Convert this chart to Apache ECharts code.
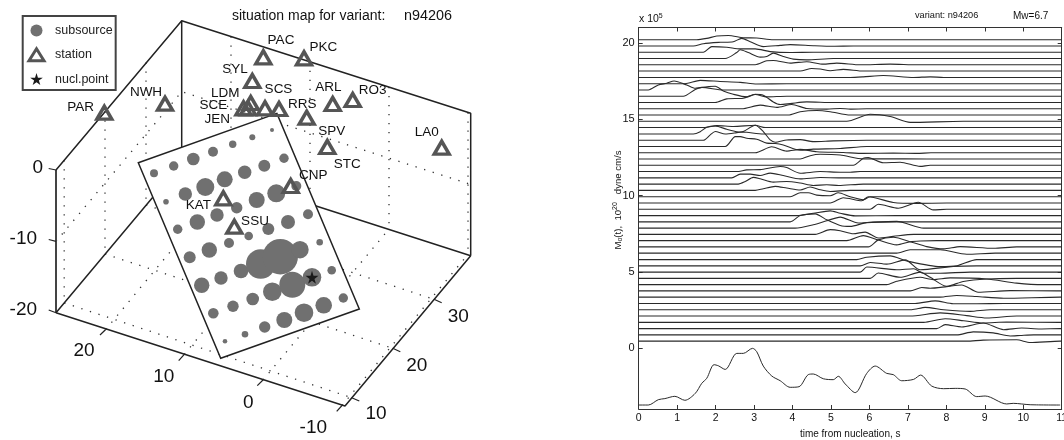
<!DOCTYPE html>
<html><head><meta charset="utf-8">
<style>html,body{margin:0;padding:0;background:#fff}#c{width:1064px;height:440px}</style>
<script src="https://cdn.jsdelivr.net/npm/echarts@6/dist/echarts.min.js"></script></head>
<body><div id="c"></div>
<script>
// ---------- left panel: projected figure of the 3-D box, [x, y] on the hidden projection axes ----------
const boxEdges = [
  [[56,170],[56,312.7]],
  [[56,170],[181.7,20.7],[470.7,113.3],[470.7,255.7]],
  [[181.7,20.7],[181.7,162.7]],
  [[56,312.7],[181.7,162.7],[470.7,255.7]],
  [[56,312.7],[345,406],[470.7,255.7]]
];
const boxTicks = [
  [[48.7,168.5],[56,170]],[[48.7,239.5],[56,241.4]],[[48.7,310],[56,312.7]],
  [[100,335],[105.7,329.5]],[[178.7,360.7],[184.3,354.3]],[[257.3,385.7],[263,380]],[[336.7,411.3],[342,405.5]],
  [[351.7,397.7],[359.3,401]],[[392.7,348.3],[400.3,351.7]],[[434,299.3],[441.7,302.7]]
];
const gridDots = [
  [[64.2,160.2],[64.2,302.9]],[[105,111.4],[105,254]],[[146,62.4],[146,205]],
  [[231,36.5],[231,178.5]],[[310,61.8],[310,203.8]],[[389,87],[389,229]],[[468,112.4],[468,254.4]],
  [[56,241.4],[181.7,91.7],[470.7,184.4]],
  [[105.7,329.5],[231,178.5]],[[184.3,354.3],[310,203.8]],[[263,380],[389,229]],[[342,405.5],[468,254.4]],
  [[64.2,302.9],[351.7,397.7]],[[105,254],[392.7,348.3]],[[146,205],[434,299.3]]
];
const faultPlane = [[138.3,162.7],[276.9,113.4],[359.3,309],[220.7,358.3]];
const subsources = [ // x, y, diameter
 [154,173.3,8],[173.7,166,9.4],[193.3,159,12.6],[213,151.7,10],[232.7,144.3,7.4],[252.3,137.3,6],[272,130,4],
 [166,201.7,5.6],[185.3,194,13.4],[205.3,187,18],[224.7,179.3,16],[244.7,172.3,13.4],[264.3,165.7,12],[284,158.3,9.4],
 [177.7,229.3,9.4],[197.3,222,15.4],[217,215,13.4],[236.7,207.7,11.4],[256.7,200,16],[276.3,193.3,18],[296.3,186,10],
 [189.7,257.3,12],[209.3,250,15.4],[229,243,10],[248.7,236,8.6],[268.3,229,12],[288,222,14],[308,214.3,10],
 [201.7,285.3,15.4],[221,278,13.4],[241,271,14.6],[260.7,264,29.4],[280.3,256.7,35.4],[300,249.7,17.4],[319.7,242.3,6.6],
 [213.3,313.3,10.6],[233,306.3,11.4],[252.7,299,12.6],[272.3,291.7,18.6],[292.3,284.7,26],[312,277.3,18.6],[331.7,270.3,8.6],
 [225,341.3,4.6],[245,334.3,6.6],[264.7,327,11.4],[284.3,320,16],[304,312.7,18.6],[323.7,305.3,16.6],[343.3,298,9.4]
];
const stations = [[104.3,112.7],[165,103.7],[263.3,57.3],[252.3,81],[304,58.3],[250.7,103],[243.5,108.3],[248,108.3],
 [265,108.3],[279,109],[306.7,117.7],[332.7,104],[352.7,100],[327.3,147],[441.7,147.7],[290.7,186],[223.3,198.3],[234.3,226.7]];
const nuclPoint = [[312,277.3]];
const stationLabels = [[80.7,107,'PAR'],[146,92,'NWH'],[281,40,'PAC'],[323.3,47,'PKC'],[235,69,'SYL'],[225.3,93.7,'LDM'],
 [213.3,105.7,'SCE'],[217.3,119,'JEN'],[278.5,89,'SCS'],[328.3,87.3,'ARL'],[372.7,90,'RO3'],[302.3,104,'RRS'],
 [331.7,131,'SPV'],[347.3,164,'STC'],[426.7,132.3,'LA0'],[313.3,175.7,'CNP'],[198.3,205,'KAT'],[255,221,'SSU']];
const boxTickLabels = [[37.7,167.7,'0'],[23.3,239,'-10'],[23.3,309.3,'-20'],[84,351,'20'],[163.7,376.7,'10'],[248.3,402.3,'0'],
 [313.3,427.3,'-10'],[376,414,'10'],[416.7,365.7,'20'],[458.3,316.7,'30']];

// ---------- right panel ----------
const timeTicks = [0,1,2,3,4,5,6,7,8,9,10,11];
const momentTicks = [0,5,10,15,20];
const traceBaselines = [20.2,19.79,19.38,18.97,18.56,18.15,17.73,17.32,16.91,16.5,16.09,15.68,15.27,14.86,14.45,14.03,13.62,13.21,12.8,12.39,11.98,11.57,11.16,10.75,10.34,9.92,9.51,9.1,8.69,8.28,7.87,7.46,7.05,6.64,6.23,5.81,5.4,4.99,4.58,4.17,3.76,3.35,2.94,2.53,2.12,1.7,1.29,.88,.47];
const tracePulses = [ // [time s, offset from the trace's baseline]
 [[1.51,0],[1.77,.09],[2.03,.24],[2.33,.28],[2.72,.13],[3.07,.11],[3.5,0]],
 [[1.42,0],[1.68,.15],[2.12,.24],[2.46,.28],[2.68,.5],[2.9,.28],[3.24,-.04],[3.68,.04],[3.94,.09],[4.54,.02],[5.06,-.02],[5.58,0]],
 [[1.68,0],[1.9,.37],[2.29,.33],[2.64,.22],[3.03,.22],[3.42,.04],[3.94,-.02],[4.54,0]],
 [[2.25,0],[2.55,.39],[2.64,.57],[2.85,.39],[3.16,.09],[3.33,.13],[3.5,.35],[3.76,.13],[4.02,-.04],[4.37,-.09],[5.06,0]],
 [[3.03,0],[3.33,.26],[3.5,.28],[3.94,.11],[4.37,.2],[4.8,.04],[5.15,.11],[5.76,0],[6.54,.04],[7.24,0]],
 [[4.2,0],[4.5,.17],[4.72,.13],[4.98,.02],[5.32,.11],[5.84,0]],
 [[5.5,0],[5.84,.04],[6.36,.13],[7.15,0],[7.58,.04],[7.93,0]],
 [[1.2,0],[1.6,.22],[2.12,.15],[2.64,.09],[3.07,-.02],[3.85,0]],
 [[.25,0],[.51,.33],[.73,.44],[.92,.59],[1.25,.33],[1.47,.11],[1.64,.17],[2.2,0]],
 [[1.16,0],[1.47,.44],[1.64,.57],[1.99,.65],[2.2,.35],[2.46,.13],[2.81,-.04],[3.03,.11],[3.33,-.04],[3.85,0]],
 [[1.99,0],[2.29,.24],[2.72,.28],[3.03,.54],[3.24,.48],[3.5,.04],[3.68,-.13],[3.94,-.07],[4.37,.04],[5.06,0]],
 [[2.68,0],[3.16,.24],[3.59,.09],[3.98,.28],[4.37,.02],[4.89,-.02],[5.24,.02],[5.5,-.02],[5.93,0]],
 [[3.89,0],[4.2,.22],[4.63,.3],[4.98,.22],[5.5,0]],
 [[5.41,0],[6.02,.46],[6.54,.31],[7.06,-.07],[8.44,0]],
 [[1.47,0],[1.77,.02],[2.03,.13],[2.46,.07],[3.03,.15],[3.29,0]],
 [[1.42,0],[1.6,.15],[1.77,.44],[1.99,.52],[2.29,.31],[2.55,.15],[2.81,.11],[3.24,0]],
 [[1.68,0],[1.86,.35],[1.99,.57],[2.25,.41],[2.55,.5],[2.72,.57],[3.03,.98],[3.24,.57],[3.42,.02],[3.55,-.13],[3.85,.02],[4.2,.04],[4.54,-.09],[5.06,-.04],[5.93,0]],
 [[2.25,0],[2.51,.65],[2.64,.65],[2.81,.54],[3.07,.48],[3.33,.22],[3.55,.2],[3.76,.1],[4.2,-.24],[4.54,-.17],[5.24,-.13],[5.93,0]],
 [[3.03,0],[3.46,.39],[3.85,.11],[4.2,.22],[4.63,.07],[5.32,.02],[5.84,-.04],[6.62,-.02],[7.24,-.04],[7.6,0]],
 [[4.2,0],[4.46,.22],[4.72,.31],[5.24,.26],[5.84,0],[6.36,.02],[7.49,0]],
 [[5.58,0],[5.84,.46],[5.97,.5],[6.36,.17],[6.8,.2],[7.32,-.07],[7.58,0]],
 [[2.55,0],[2.81,.11],[3.16,.13],[3.68,.33],[3.85,.26],[4.2,-.11],[4.72,0],[5.24,-.04],[5.5,-.04],[5.76,0]],
 [[2.42,0],[2.64,.24],[2.9,.24],[3.16,.15],[3.42,.31],[3.76,.15],[4.2,-.07],[4.72,.02],[5.24,0]],
 [[2.59,0],[2.77,.17],[2.98,.44],[3.16,.35],[3.5,.13],[3.85,.17],[4.2,.07],[4.54,-.09],[4.89,-.04],[5.2,-.09],[5.84,0]],
 [[3.03,0],[3.24,.11],[3.55,.26],[3.85,.15],[4.2,.02],[4.46,.22],[4.72,.04],[4.98,-.07],[5.5,0]],
 [[3.94,0],[4.2,.26],[4.41,.26],[4.63,.11],[4.98,.07],[5.19,.26],[5.5,0],[5.84,-.2],[6.02,0],[6.62,0]],
 [[4.98,0],[5.32,.35],[5.8,.15],[5.97,.41],[6.62,.04],[7.24,-.02],[8.01,0]],
 [[6.02,0],[6.23,.33],[6.75,.07],[7.27,.46],[7.66,-.04],[8.01,0]],
 [[4.11,0],[4.54,.15],[4.98,.31],[5.24,.15],[5.63,-.02],[6.71,0]],
 [[3.94,0],[4.2,.41],[4.59,.52],[4.89,.13],[5.24,-.24],[5.5,-.3],[5.93,-.05],[6.71,0]],
 [[4.07,0],[4.54,.22],[4.89,.48],[5.24,.72],[5.71,.33],[6.1,.39],[6.71,.44],[7.41,0]],
 [[4.59,0],[4.98,.31],[5.24,.24],[5.58,.04],[5.89,.15],[6.23,-.24],[6.62,-.13],[7.15,0]],
 [[5.41,0],[5.84,.33],[6.23,.04],[6.71,-.28],[7.06,-.07],[7.32,-.02],[7.75,0]],
 [[5.97,0],[6.23,.46],[6.62,.63],[7.1,.31],[7.49,.02],[7.93,-.13],[8.36,.02],[9.23,-.09],[9.83,0]],
 [[6.45,0],[6.71,0],[7.06,.22],[7.49,.22],[7.84,.22],[8.53,-.07],[9.27,0]],
 [[5.67,0],[5.93,.15],[6.54,.24],[6.97,-.09],[7.84,-.46],[8.27,-.41],[8.79,0]],
 [[5.76,0],[6.02,.22],[6.45,.11],[6.93,.39],[7.32,-.26],[8.18,-.04],[8.79,0]],
 [[5.76,0],[5.93,.33],[6.71,.15],[7.15,.22],[7.4,-.07],[7.84,-.07],[8.62,0]],
 [[6.02,0],[6.23,.35],[6.8,.07],[7.32,.41],[7.58,.07],[8.01,-.52],[8.44,-.2],[9.05,-.04],[9.83,0]],
 [[6.45,0],[6.71,.22],[7.32,.48],[7.66,.33],[8.1,.44],[9.05,.37],[9.83,.1],[10.52,0]],
 [[7.06,0],[7.36,.22],[7.58,.17],[8.01,.28],[8.4,.39],[8.83,-.09],[9.66,.02],[10.87,0]],
 [[7.84,0],[8.27,.11],[8.79,.04],[9.49,-.07],[10.96,0]],
 [[7.19,0],[7.71,.17],[8.18,-.02],[8.79,-.02],[9.49,0]],
 [[7.1,0],[7.45,.15],[7.93,0],[8.62,-.11],[9.14,0]],
 [[7.06,0],[7.84,.2],[8.53,.02],[9.05,-.13],[9.83,0]],
 [[7.41,0],[7.97,.24],[8.45,.11],[8.96,-.04],[9.57,.02],[10.96,0]],
 [[7.75,0],[7.97,.26],[8.4,.11],[8.96,.37],[9.49,-.07],[9.96,.04],[10.44,-.02],[10.96,0]],
 [[8.27,0],[8.7,.2],[9.22,.13],[9.66,-.07],[9.92,-.04],[10.27,0]],
 [[8.53,0],[8.96,.07],[9.83,.09],[10.18,-.09],[10.96,0]]
];
const totalMoment = [[0,-3.71],[.25,-3.71],[.51,-3.36],[.68,-3.29],[.94,-3.14],[1.2,-3.4],[1.47,-2.95],[1.64,-2.29],[1.77,-1.96],[1.96,-1.07],[2.07,-1.14],[2.25,-1.38],[2.55,-.33],[2.72,-.33],[2.96,0],[3.07,-.22],[3.24,-1.16],[3.46,-1.81],[3.68,-2.12],[3.94,-2.55],[4.17,-2.51],[4.41,-1.72],[4.54,-1.68],[4.8,-1.99],[5.06,-2.05],[5.19,-1.83],[5.37,-2.33],[5.63,-2.9],[5.93,-1.64],[6.15,-1.16],[6.45,-1.64],[6.62,-1.72],[6.84,-2.12],[7.15,-2.03],[7.33,-1.75],[7.62,-2.47],[7.93,-2.64],[8.23,-2.62],[8.49,-2.66],[8.79,-3.16],[9.01,-3.12],[9.57,-3.64],[9.74,-3.6],[10.18,-3.69],[10.96,-3.71]];

const FONT = '"Liberation Sans", Arial, sans-serif';
const STAR = 'path://M50 0 L61 35 L98 35 L68 57 L79 91 L50 70 L21 91 L32 57 L2 35 L39 35Z';
function wire(pts, z, lineStyle){ return {type:'line', xAxisIndex:0, yAxisIndex:0, data:pts, symbol:'none', silent:true, z, clip:false, lineStyle, animation:false}; }
function labels(rows, size, z){ return {type:'custom', xAxisIndex:0, yAxisIndex:0, data:rows, z, silent:true, clip:false,
  encode:{x:0,y:1},
  renderItem:(p,api)=>{const c=api.coord([api.value(0),api.value(1)]);
    return {type:'text',x:c[0],y:c[1],style:{text:rows[p.dataIndex][2],font:size+'px '+FONT,fill:'#111',align:'center',verticalAlign:'middle'}};}}; }

const series = [];
gridDots.forEach(g=>series.push(wire(g,1,{color:'#333',width:1.3,type:[1.3,7.7]})));
boxEdges.forEach((g,i)=>series.push(wire(g,2,{color:i===0?'#444':'#222',width:i===0?2:1.5})));
boxTicks.forEach(g=>series.push(wire(g,2,{color:'#222',width:1.2})));
series.push({type:'custom',xAxisIndex:0,yAxisIndex:0,z:3,silent:true,clip:false,data:faultPlane,encode:{x:0,y:1},
  renderItem:(p,api)=>p.dataIndex===0?{type:'polygon',shape:{points:faultPlane.map(q=>api.coord(q))},style:{fill:'#fff',stroke:'#222',lineWidth:1.5}}:null});
series.push({name:'subsource',type:'scatter',xAxisIndex:0,yAxisIndex:0,z:4,data:subsources,symbol:'circle',symbolSize:v=>v[2],
  itemStyle:{color:'#707070',opacity:1},silent:true,clip:false});
series.push({name:'station',type:'scatter',xAxisIndex:0,yAxisIndex:0,z:5,data:stations,symbol:'triangle',symbolSize:[15,13],
  itemStyle:{color:'rgba(255,255,255,0)',borderColor:'#555',borderWidth:3.4,opacity:1},silent:true,clip:false});
series.push({name:'nucl.point',type:'scatter',xAxisIndex:0,yAxisIndex:0,z:6,data:nuclPoint,symbol:STAR,symbolSize:13,
  itemStyle:{color:'#1a1a1a',opacity:1},silent:true,clip:false});
series.push(labels(stationLabels,13.5,7));
series.push(labels(boxTickLabels,19,7));
tracePulses.forEach((pulse,i)=>{
  const b=traceBaselines[i];
  series.push({type:'line',xAxisIndex:1,yAxisIndex:1,symbol:'none',silent:true,smooth:0.25,animation:false,
    lineStyle:{color:'#2a2a2a',width:1.1},
    data:[[0,b],...pulse.map(p=>[p[0],+(b+p[1]).toFixed(3)]),[11,b]]});
});
series.push({type:'line',xAxisIndex:1,yAxisIndex:1,symbol:'none',silent:true,smooth:0.3,animation:false,lineStyle:{color:'#2a2a2a',width:1},data:totalMoment});

const hiddenX={show:false,type:'value',gridIndex:0,min:0,max:530};
const hiddenY={show:false,type:'value',gridIndex:0,min:0,max:440,inverse:true};
const frameLine={show:true,onZero:false,lineStyle:{color:'#333',width:1}};
const frameTick={show:true,inside:true,length:4,lineStyle:{color:'#333',width:1}};
const titleText=(size)=>({fontFamily:FONT,fontSize:size,fontWeight:'normal',color:'#111'});
const option={
  backgroundColor:'#fff',animation:false,
  grid:[{left:0,top:0,width:530,height:440,outerBoundsMode:'none'},{left:638.7,top:27.5,width:423,height:381.5,outerBoundsMode:'none'}],
  title:[
    {left:232,top:9,padding:0,text:'situation map for variant:',textStyle:titleText(14)},
    {left:404,top:9,padding:0,text:'n94206',textStyle:titleText(14.4)},
    {left:915,top:11,padding:0,text:'variant: n94206',textStyle:titleText(9.2)},
    {left:1013,top:11,padding:0,text:'Mw=6.7',textStyle:titleText(10)},
    {left:639,top:13,padding:0,text:'{a|x 10}{s|5}',textStyle:{fontWeight:'normal',rich:{a:{fontFamily:FONT,fontSize:10.5,color:'#111',fontWeight:'normal'},s:{fontFamily:FONT,fontSize:7,color:'#111',fontWeight:'normal',verticalAlign:'top',padding:[0,0,6,0]}}}}
  ],
  legend:{left:22.7,top:16,orient:'vertical',selectedMode:false,
    data:[{name:'subsource'},{name:'station',itemStyle:{borderWidth:3,borderColor:'#555',color:'rgba(255,255,255,0)'}},{name:'nucl.point'}],
    itemWidth:15,itemHeight:12,itemGap:10.3,padding:[8,3,4.5,4.8],borderColor:'#444',borderWidth:2,
    textStyle:{fontFamily:FONT,fontSize:12.5,color:'#222',padding:[0,0,0,6]}},
  xAxis:[hiddenX,
    {type:'value',gridIndex:1,min:0,max:11,interval:1,position:'bottom',axisLine:frameLine,axisTick:frameTick,splitLine:{show:false},
     axisLabel:{fontFamily:FONT,fontSize:10.5,color:'#111',margin:4,hideOverlap:false,showMaxLabel:true,showMinLabel:true,customValues:timeTicks},
     name:'time from nucleation, s',nameLocation:'middle',nameGap:18,nameTextStyle:{fontFamily:FONT,fontSize:10,color:'#111'}},
    {type:'value',gridIndex:1,min:0,max:11,interval:1,position:'top',axisLine:frameLine,axisTick:frameTick,axisLabel:{show:false},splitLine:{show:false}}],
  yAxis:[hiddenY,
    {type:'value',gridIndex:1,min:-3.97,max:21,position:'left',axisLine:frameLine,
     axisTick:Object.assign({customValues:momentTicks},frameTick),splitLine:{show:false},
     axisLabel:{customValues:momentTicks,fontFamily:FONT,fontSize:11,color:'#111',margin:4}},
    {type:'value',gridIndex:1,min:-3.97,max:21,position:'right',axisLine:frameLine,
     axisTick:Object.assign({customValues:momentTicks},frameTick),axisLabel:{show:false},splitLine:{show:false}}],
  graphic:[{type:'text',x:618,y:200,rotation:Math.PI/2,silent:true,
    style:{text:'{a|M}{s|o}{a|(t),  10}{u|20}{a|   dyne cm/s}',align:'center',verticalAlign:'middle',
      rich:{a:{fontFamily:FONT,fontSize:9.6,fill:'#111',color:'#111'},s:{fontFamily:FONT,fontSize:7,fill:'#111',color:'#111',padding:[5,0,0,0]},u:{fontFamily:FONT,fontSize:7,fill:'#111',color:'#111',padding:[0,0,5,0]}}}}],
  series
};
echarts.init(document.getElementById('c'),null,{renderer:'canvas'}).setOption(option);
</script></body></html>
